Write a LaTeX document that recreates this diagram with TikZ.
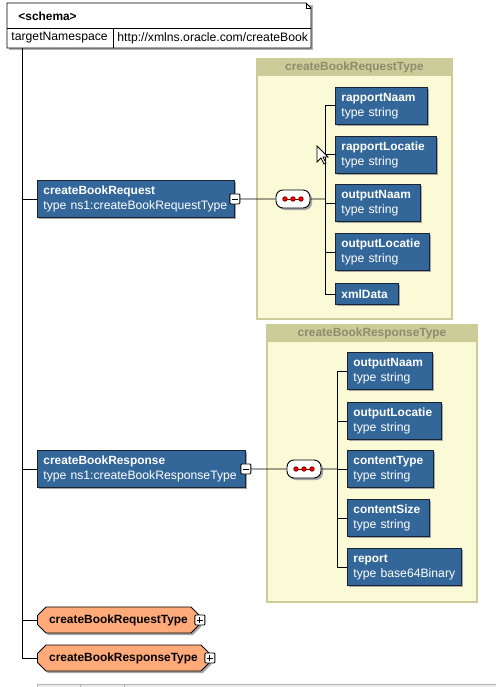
\documentclass[tikz,border=0pt]{standalone}
\usepackage{fontspec}
\setmainfont{Liberation Sans}
\usetikzlibrary{shapes.misc,shadows}
\definecolor{elemblue}{RGB}{51,102,153}
\definecolor{elemedge}{RGB}{25,35,50}
\definecolor{typefill}{RGB}{250,250,215}
\definecolor{typeedge}{RGB}{204,204,153}
\definecolor{typetext}{RGB}{140,140,110}
\definecolor{cplxfill}{RGB}{255,170,120}
\newcommand{\txtfont}{\fontsize{12.2}{15}\selectfont}
\newcommand{\nmfont}{\fontsize{11.9}{15}\selectfont\bfseries}
\newcommand{\nm}[1]{{\nmfont #1}}
\tikzset{
  shade/.style={drop shadow={shadow xshift=2pt,shadow yshift=-2pt,fill=black!35,opacity=1}},
  elem/.style={draw=elemedge,fill=elemblue,text=white,anchor=north west,align=left,
    text width=#1,inner xsep=6pt,inner ysep=2pt,minimum height=37pt,shade},
  seq/.style={draw,fill=white,rounded corners=7pt,minimum width=34pt,minimum height=18pt,
    inner sep=0pt,shade,
    path picture={\draw[red!50!black] ([xshift=-8pt]path picture bounding box.center)
      -- ([xshift=8pt]path picture bounding box.center);
      \foreach \d in {-8,0,8}
        \filldraw[fill=red,draw=red!50!black] ([xshift=\d pt]path picture bounding box.center) circle (2.2pt);}},
  typebox/.style={draw=typeedge,line width=2pt,fill=typefill,anchor=north west,inner sep=0pt},
  typehdr/.style={fill=typeedge,text=typetext,font=\nmfont,anchor=north,inner sep=0pt,minimum height=18pt},
  cplx/.style={chamfered rectangle,chamfered rectangle xsep=5pt,draw,fill=cplxfill,
    font=\nmfont,anchor=west,minimum height=26pt,inner sep=0pt,shade},
  toggle/.style={draw,fill=white,minimum size=10pt,inner sep=0pt,rounded corners=1pt},
  minus/.style={toggle,path picture={\draw ([xshift=2pt]path picture bounding box.west)
      -- ([xshift=-2pt]path picture bounding box.east);}},
  plus/.style={toggle,path picture={\draw ([xshift=2pt]path picture bounding box.west)
      -- ([xshift=-2pt]path picture bounding box.east);
      \draw ([yshift=-2pt]path picture bounding box.north) -- ([yshift=2pt]path picture bounding box.south);}}
}
\begin{document}
\begin{tikzpicture}[x=1pt,y=-1pt,line width=0.9pt,font=\txtfont]
  \useasboundingbox (0,0) rectangle (495,687);
  % schema header
  \fill[black!30] (9,5) rectangle (313,50);
  \filldraw[fill=white] (7,3) -- (306,3) -- (311,8) -- (311,48) -- (7,48) -- cycle;
  \draw (306,3) |- (311,8);
  \draw (7,28) -- (311,28) (113,28) -- (113,48);
  \node[anchor=west,font=\nmfont,inner sep=0pt] (schema) at (18,16) {<schema>};
  \node[anchor=west,inner sep=0pt] (tns) at (11,38) {targetNamespace};
  \node[anchor=west,inner sep=0pt] (tnsval) at (117,38) {http://xmlns.oracle.com/createBook};
  \coordinate (trunk) at (22,48);
  % complex types
  \node[typebox,minimum width=195pt,minimum height=260pt] (reqT) at (256,58) {};
  \node[typehdr,minimum width=195pt] (reqTh) at (reqT.north) {createBookRequestType};
  \node[typebox,minimum width=210pt,minimum height=277pt] (respT) at (266,324) {};
  \node[typehdr,minimum width=210pt] (respTh) at (respT.north) {createBookResponseType};
  % elements
  \node[elem=185pt] (req) at (37,180) {\nm{createBookRequest}\\type ns1:createBookRequestType};
  \node[elem=196pt] (resp) at (37,450) {\nm{createBookResponse}\\type ns1:createBookResponseType};
  \node[seq] (reqSeq) at (293,199) {};
  \node[seq] (respSeq) at (304,469) {};
  \coordinate (reqBus) at (325,199);
  \coordinate (respBus) at (337,469);
  \node[elem=80pt] (rn) at (335,87) {\nm{rapportNaam}\\type string};
  \node[elem=89pt] (rl) at (335,136) {\nm{rapportLocatie}\\type string};
  \node[elem=73pt] (on) at (335,184) {\nm{outputNaam}\\type string};
  \node[elem=82pt] (ol) at (335,233) {\nm{outputLocatie}\\type string};
  \node[elem=51pt,minimum height=21pt] (xd) at (335,283) {\nm{xmlData}};
  \node[elem=73pt] (on2) at (347,352) {\nm{outputNaam}\\type string};
  \node[elem=82pt] (ol2) at (347,402) {\nm{outputLocatie}\\type string};
  \node[elem=74pt] (ct) at (347,450) {\nm{contentType}\\type string};
  \node[elem=70pt] (cs) at (347,499) {\nm{contentSize}\\type string};
  \node[elem=102pt] (rp) at (347,548) {\nm{report}\\type\ base64Binary};
  \node[cplx,minimum width=162pt] (reqTy) at (37,620) {createBookRequestType};
  \node[cplx,minimum width=172pt] (respTy) at (37,658) {createBookResponseType};
  % connectors
  \draw (trunk) |- (respTy.west);
  \foreach \n in {req,resp,reqTy} \draw (trunk |- \n.west) -- (\n.west);
  \draw (req.east) -- (reqSeq.west) (reqSeq.east) -- (reqBus);
  \foreach \c in {rn,rl,on,ol,xd} \draw (reqBus) |- (\c.west);
  \draw (resp.east) -- (respSeq.west) (respSeq.east) -- (respBus);
  \foreach \c in {on2,ol2,ct,cs,rp} \draw (respBus) |- (\c.west);
  \node[minus] (reqMinus) at (req.east) {};
  \node[minus] (respMinus) at (resp.east) {};
  \node[plus] (reqPlus) at (reqTy.east) {};
  \node[plus] (respPlus) at (respTy.east) {};
  % mouse pointer
  \filldraw[fill=white,line width=0.8pt] (317,146) -- ++(0,16) -- ++(4,-4) -- ++(3,6)
    -- ++(2,-1) -- ++(-3,-6) -- ++(5,0) -- cycle;
  % scroll bar
  \filldraw[fill=black!8,draw=black!30] (37,684) rectangle (496,688);
  \draw[black!30] (80,684) -- (80,688) (124,684) -- (124,688);
\end{tikzpicture}
\end{document}
